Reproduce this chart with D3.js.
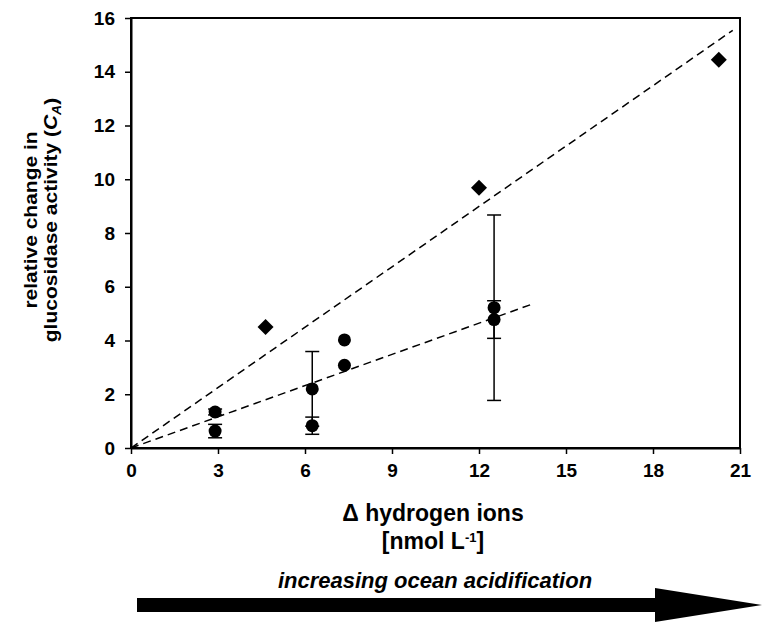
<!DOCTYPE html>
<html><head><meta charset="utf-8">
<script src="https://cdn.jsdelivr.net/npm/d3@7"></script>
<style>body{margin:0;background:#fff}svg{display:block}text{font-family:Arial,"Liberation Sans",sans-serif;font-weight:bold;fill:#000}</style>
</head><body>
<svg id="c" width="762" height="641"></svg>
<script>
// data
const xTicks = [0,3,6,9,12,15,18,21];
const yTicks = [0,2,4,6,8,10,12,14,16];
const circleX = [2.9, 2.9, 6.25, 6.25, 7.36, 7.36, 12.52, 12.52];
const circleY = [0.63, 1.34, 0.83, 2.2, 3.08, 4.02, 4.78, 5.22];
const circleErr = [0.25, 0.11, 0.32, 1.39, 0, 0, 0.7, 3.45];
const diamondX = [4.64, 12.0, 20.27];
const diamondY = [4.5, 9.68, 14.45];
const fitDiamond = {x: [0, 20.75], slope: 0.749};
const fitCircle = {x: [0, 13.82], slope: 0.387};

const svg = d3.select('#c');
const L=131, R=740, T=18, B=448;
const x = d3.scaleLinear().domain([0,21]).range([L,R]);
const y = d3.scaleLinear().domain([0,16]).range([B,T]);

svg.append('rect').attr('x',L).attr('y',T).attr('width',R-L).attr('height',B-T)
  .attr('fill','none').attr('stroke','#000').attr('stroke-width',2);

const xa = svg.append('g').attr('transform',`translate(0,${B})`)
  .call(d3.axisBottom(x).tickValues(xTicks).tickSize(6).tickPadding(10).tickSizeOuter(0));
const ya = svg.append('g').attr('transform',`translate(${L},0)`)
  .call(d3.axisLeft(y).tickValues(yTicks).tickSize(6).tickPadding(10).tickSizeOuter(0));
[xa,ya].forEach(a=>{
  a.select('.domain').attr('stroke','#000').attr('stroke-width',2);
  a.selectAll('.tick line').attr('stroke','#000').attr('stroke-width',1.5);
  a.selectAll('.tick text').style('font-size','19px').style('font-family','Arial,"Liberation Sans",sans-serif').style('font-weight','bold');
});

[fitDiamond, fitCircle].forEach(f=>{
  svg.append('line')
    .attr('x1',x(f.x[0])).attr('y1',y(f.x[0]*f.slope))
    .attr('x2',x(f.x[1])).attr('y2',y(f.x[1]*f.slope))
    .attr('stroke','#000').attr('stroke-width',1.5).attr('stroke-dasharray','8,5');
});

const eb = svg.append('g');
circleX.forEach((cx,i)=>{
  const e=circleErr[i]; if(!e) return;
  const px=x(cx), y1=y(circleY[i]-e), y2=y(circleY[i]+e);
  eb.append('line').attr('x1',px).attr('x2',px).attr('y1',y1).attr('y2',y2).attr('stroke','#000').attr('stroke-width',1.5);
  [y1,y2].forEach(yy=>eb.append('line').attr('x1',px-7).attr('x2',px+7).attr('y1',yy).attr('y2',yy).attr('stroke','#000').attr('stroke-width',1.5));
});

svg.append('g').selectAll('circle').data(circleX).join('circle')
  .attr('cx',d=>x(d)).attr('cy',(d,i)=>y(circleY[i])).attr('r',6.5).attr('fill','#000');
svg.append('g').selectAll('path').data(diamondX).join('path')
  .attr('transform',(d,i)=>`translate(${x(d)},${y(diamondY[i])})`)
  .attr('d','M0,-8L8,0L0,8L-8,0Z').attr('fill','#000');

// y title (two lines)
const yc = 220;
svg.append('text').attr('transform',`translate(37,${yc}) rotate(-90) scale(1,0.85)`)
  .attr('text-anchor','middle').style('font-size','21px').text('relative change in');
const t2 = svg.append('text').attr('transform',`translate(57,${yc}) rotate(-90) scale(1,0.85)`)
  .attr('text-anchor','middle').style('font-size','21px');
t2.append('tspan').text('glucosidase activity (');
t2.append('tspan').style('font-style','italic').text('C');
t2.append('tspan').style('font-style','italic').style('font-size','14px').attr('dy',5).text('A');
t2.append('tspan').attr('dy',-5).text(')');

// x title
const cx = 433;
svg.append('text').attr('x',cx).attr('y',521).attr('text-anchor','middle').style('font-size','23px').text('\u0394 hydrogen ions');
const xt2 = svg.append('text').attr('x',cx).attr('y',549).attr('text-anchor','middle').style('font-size','23px');
xt2.append('tspan').text('[nmol L');
xt2.append('tspan').style('font-size','13px').attr('dy',-7).text('-1');
xt2.append('tspan').attr('dy',7).text(']');

// arrow + caption
svg.append('text').attr('x',435).attr('y',588).attr('text-anchor','middle').style('font-size','22px').style('font-style','italic').text('increasing ocean acidification');
svg.append('path').attr('d','M137,598L655,598L655,588L762,605L655,622L655,612L137,612Z').attr('fill','#000');
</script>
</body></html>
